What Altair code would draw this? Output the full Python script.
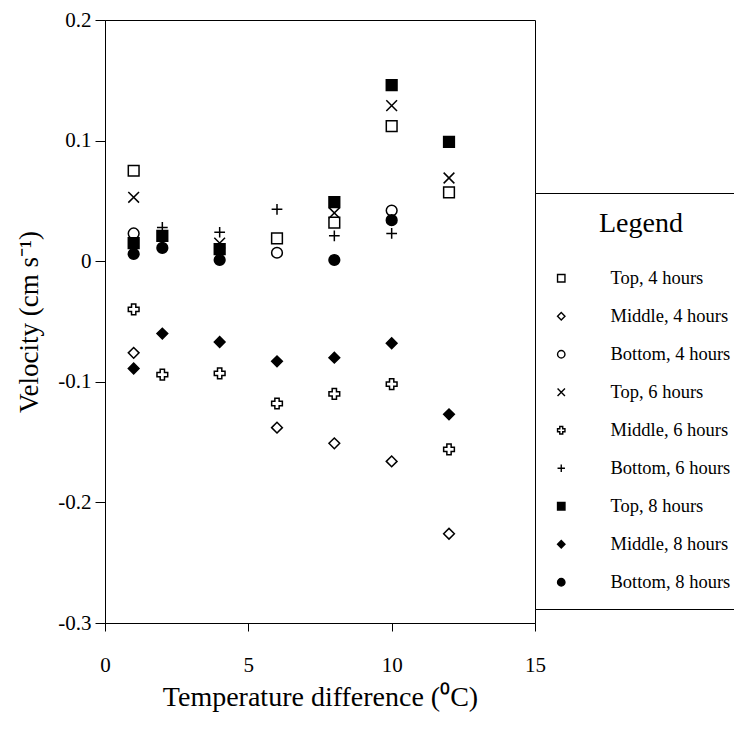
import altair as alt
import pandas as pd

FONT = "Liberation Serif"

series = ["Top, 4 hours", "Middle, 4 hours", "Bottom, 4 hours",
          "Top, 6 hours", "Middle, 6 hours", "Bottom, 6 hours",
          "Top, 8 hours", "Middle, 8 hours", "Bottom, 8 hours"]

top4_x = [1, 6, 8, 10, 12]
top4_y = [0.075, 0.019, 0.032, 0.112, 0.057]

middle4_x = [1, 6, 8, 10, 12]
middle4_y = [-0.076, -0.138, -0.151, -0.166, -0.226]

bottom4_x = [1, 6, 10]
bottom4_y = [0.023, 0.007, 0.042]

top6_x = [1, 4, 8, 10, 12]
top6_y = [0.053, 0.015, 0.040, 0.129, 0.069]

middle6_x = [1, 2, 4, 6, 8, 10, 12]
middle6_y = [-0.040, -0.094, -0.093, -0.118, -0.110, -0.102, -0.156]

bottom6_x = [2, 4, 6, 8, 10]
bottom6_y = [0.028, 0.024, 0.043, 0.021, 0.023]

top8_x = [1, 2, 4, 8, 10, 12]
top8_y = [0.015, 0.021, 0.010, 0.049, 0.146, 0.099]

middle8_x = [1, 2, 4, 6, 8, 10, 12]
middle8_y = [-0.089, -0.060, -0.067, -0.083, -0.080, -0.068, -0.127]

bottom8_x = [1, 2, 4, 8, 10]
bottom8_y = [0.006, 0.011, 0.001, 0.001, 0.034]

x_ticks = [0, 5, 10, 15]
y_ticks = [-0.3, -0.2, -0.1, 0, 0.1, 0.2]

all_x = [top4_x, middle4_x, bottom4_x, top6_x, middle6_x, bottom6_x, top8_x, middle8_x, bottom8_x]
all_y = [top4_y, middle4_y, bottom4_y, top6_y, middle6_y, bottom6_y, top8_y, middle8_y, bottom8_y]

rows = []
for name, xs, ys in zip(series, all_x, all_y):
    for xv, yv in zip(xs, ys):
        rows.append({"series": name, "x": xv, "y": yv})
df = pd.DataFrame(rows)

shapes = ["square", "diamond", "circle",
          "M-1,-1L1,1M-1,1L1,-1", "cross", "M-1,0H1M0,-1V1",
          "square", "diamond", "circle"]
fills = ["transparent"] * 6 + ["black"] * 3
strokes = ["black"] * 9

legend = alt.Legend(
    orient="none", legendX=430, legendY=173,
    title="Legend", titleFont=FONT, titleFontSize=28, titleFontWeight="normal",
    titleColor="black", titleAnchor="middle", titlePadding=31,
    labelFont=FONT, labelFontSize=18.5, labelColor="black", labelOffset=40,
    labelLimit=400, rowPadding=19, symbolSize=55, symbolStrokeColor="black",
    symbolStrokeWidth=1.4, symbolOpacity=1, strokeColor="black", padding=17,
    fillColor="white",
)

chart = alt.Chart(df).mark_point(
    size=115, strokeWidth=1.5, opacity=1
).encode(
    x=alt.X("x:Q",
            scale=alt.Scale(domain=[0, 15], nice=False, zero=False),
            axis=alt.Axis(values=x_ticks, format="d", grid=False, tickSize=8,
                          labelPadding=23, labelFont=FONT, labelFontSize=21,
                          labelColor="black", labelFlush=False,
                          title="Temperature difference (⁰C)", titleFont=FONT,
                          titleFontSize=28, titleFontWeight="normal",
                          titleColor="black", titlePadding=8,
                          domainColor="black", tickColor="black")),
    y=alt.Y("y:Q",
            scale=alt.Scale(domain=[-0.3, 0.2], nice=False, zero=False),
            axis=alt.Axis(values=y_ticks, grid=False, tickSize=10,
                          labelExpr="abs(datum.value) < 1e-9 ? '0' : replace(format(datum.value, '.1f'), '\u2212', '-')",
                          labelPadding=4, labelFont=FONT, labelFontSize=21,
                          labelColor="black", labelFlush=False,
                          title="Velocity (cm s⁻¹)", titleFont=FONT,
                          titleFontSize=27, titleFontWeight="normal",
                          titleColor="black", titlePadding=14,
                          domainColor="black", tickColor="black")),
    shape=alt.Shape("series:N", scale=alt.Scale(domain=series, range=shapes),
                    title="Legend", legend=legend),
    fill=alt.Fill("series:N", scale=alt.Scale(domain=series, range=fills),
                  title="Legend", legend=legend),
    stroke=alt.Stroke("series:N", scale=alt.Scale(domain=series, range=strokes),
                      title="Legend", legend=legend),
).properties(
    width=430, height=603,
    autosize="none",
    padding={"left": 97, "top": 12, "right": 199, "bottom": 101},
    background="white",
).configure_view(stroke="black", strokeWidth=1)

chart.save("out.html", embed_options={"renderer": "svg", "actions": False})
